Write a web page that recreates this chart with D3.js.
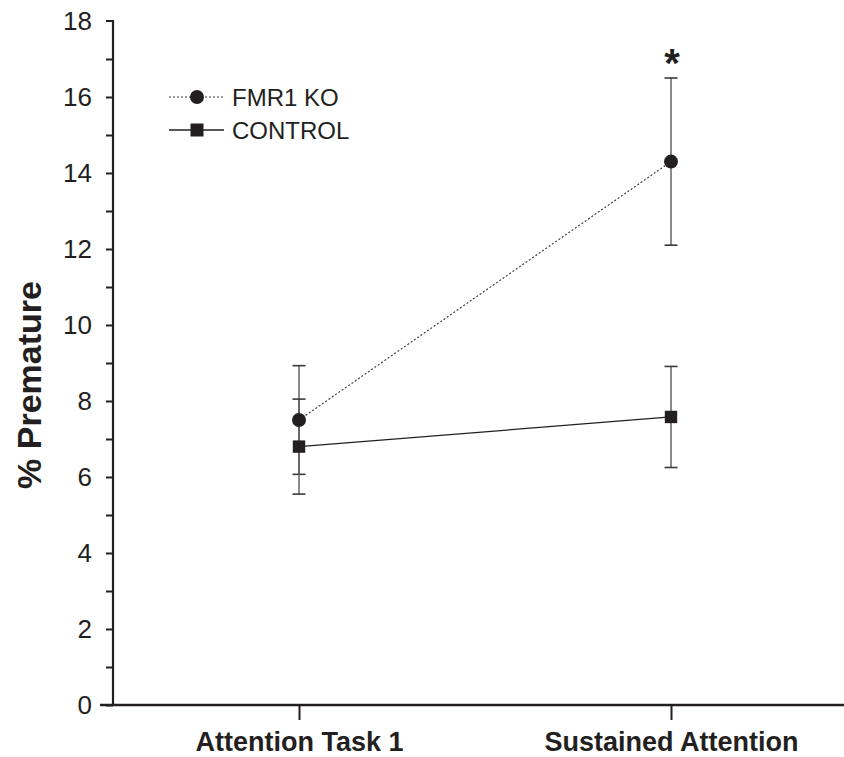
<!DOCTYPE html>
<html>
<head>
<meta charset="utf-8">
<script src="https://cdn.jsdelivr.net/npm/d3@7"></script>
<style>
  html, body { margin: 0; padding: 0; background: #fff; }
  svg { display: block; font-family: "Liberation Sans", Arial, sans-serif; }
</style>
</head>
<body>
<svg id="chart" width="844" height="757"></svg>
<script>
const categories = ["Attention Task 1", "Sustained Attention"];
const seriesNames = ["FMR1 KO", "CONTROL"];
const koMean = [7.5, 14.3];
const koErr = [1.43, 2.2];
const ctrlMean = [6.8, 7.58];
const ctrlErr = [1.25, 1.33];
const yTicks = [0, 2, 4, 6, 8, 10, 12, 14, 16, 18];
const yMinorTicks = [1, 3, 5, 7, 9, 11, 13, 15, 17];
const significance = ["", "*"];

const ink = "#231f20";
const svg = d3.select("#chart");

const x = d3.scalePoint().domain(categories).range([113, 857]).padding(0.5);
const y = d3.scaleLinear().domain([0, 18]).range([705, 21]);

// Y axis
const yAxisG = svg.append("g").attr("transform", "translate(113,0)")
  .call(d3.axisLeft(y).tickValues(yTicks).tickSize(7).tickPadding(14).tickFormat(d3.format("d")));
yAxisG.select(".domain").attr("d", `M-7,${y(18)}H0V${y(0)}`);
yAxisG.selectAll(".tick line").attr("stroke", ink).attr("stroke-width", 2);
yAxisG.selectAll(".tick text").attr("fill", ink).attr("font-size", 26)
  .attr("font-family", "Liberation Sans, Arial, sans-serif");
yAxisG.select(".tick:last-of-type line").remove();
yAxisG.selectAll(".domain").attr("stroke", ink).attr("stroke-width", 2.2);

const yMinor = svg.append("g").attr("transform", "translate(113,0)")
  .call(d3.axisLeft(y).tickValues(yMinorTicks).tickSize(7).tickFormat(""));
yMinor.select(".domain").remove();
yMinor.selectAll(".tick line").attr("stroke", ink).attr("stroke-width", 2);

// X axis
const xAxisG = svg.append("g").attr("transform", `translate(0,${y(0)})`)
  .call(d3.axisBottom(x).tickSize(15).tickPadding(16));
xAxisG.select(".domain").attr("d", "M100,0H844").attr("stroke", ink).attr("stroke-width", 2.4);
xAxisG.selectAll(".tick line").attr("stroke", ink).attr("stroke-width", 2);
xAxisG.selectAll(".tick text").attr("fill", ink).attr("font-size", 27).attr("font-weight", "bold")
  .attr("font-family", "Liberation Sans, Arial, sans-serif")
  .attr("y", 46).attr("dy", 0);

// Y label
svg.append("text")
  .attr("transform", `translate(41,${385}) rotate(-90)`)
  .attr("text-anchor", "middle")
  .attr("font-size", 34).attr("font-weight", "bold").attr("fill", ink)
  .text("% Premature");

// Data
const ko = categories.map((c, i) => ({ c, m: koMean[i], e: koErr[i] }));
const ctrl = categories.map((c, i) => ({ c, m: ctrlMean[i], e: ctrlErr[i] }));

const line = d3.line().x(d => x(d.c)).y(d => y(d.m));

function errorBars(data) {
  const g = svg.append("g");
  data.forEach(d => {
    const cx = x(d.c);
    g.append("line").attr("x1", cx).attr("x2", cx).attr("y1", y(d.m + d.e)).attr("y2", y(d.m - d.e))
      .attr("stroke", "#5a5a5a").attr("stroke-width", 1.4);
    [d.m + d.e, d.m - d.e].forEach(v => {
      g.append("line").attr("x1", cx - 6.5).attr("x2", cx + 6.5).attr("y1", y(v)).attr("y2", y(v))
        .attr("stroke", "#3a3a3a").attr("stroke-width", 1.6);
    });
  });
}
errorBars(ko);
errorBars(ctrl);

svg.append("path").datum(ko).attr("d", line).attr("fill", "none")
  .attr("stroke", "#333").attr("stroke-width", 1.1).attr("stroke-dasharray", "2,2");
svg.append("path").datum(ctrl).attr("d", line).attr("fill", "none")
  .attr("stroke", ink).attr("stroke-width", 1.3);

svg.selectAll(".ko-pt").data(ko).join("circle").attr("class", "ko-pt")
  .attr("cx", d => x(d.c)).attr("cy", d => y(d.m)).attr("r", 7).attr("fill", ink);
svg.selectAll(".ctrl-pt").data(ctrl).join("rect").attr("class", "ctrl-pt")
  .attr("x", d => x(d.c) - 6.2).attr("y", d => y(d.m) - 6.2).attr("width", 12.4).attr("height", 12.4).attr("fill", ink);

// Significance
svg.selectAll(".sig").data(ko).join("text").attr("class", "sig")
  .attr("x", d => x(d.c) + 1).attr("y", d => y(d.m + d.e) - 1)
  .attr("text-anchor", "middle").attr("font-size", 40).attr("font-weight", "bold").attr("fill", ink)
  .text((d, i) => significance[i]);

// Legend
const legend = svg.append("g");
const legendY = [97, 130];
legend.append("line").attr("x1", 169).attr("x2", 224).attr("y1", legendY[0]).attr("y2", legendY[0])
  .attr("stroke", "#333").attr("stroke-width", 1.1).attr("stroke-dasharray", "2,2");
legend.append("circle").attr("cx", 197).attr("cy", legendY[0]).attr("r", 7).attr("fill", ink);
legend.append("line").attr("x1", 169).attr("x2", 224).attr("y1", legendY[1]).attr("y2", legendY[1])
  .attr("stroke", ink).attr("stroke-width", 1.3);
legend.append("rect").attr("x", 197 - 6.5).attr("y", legendY[1] - 6.5).attr("width", 13).attr("height", 13).attr("fill", ink);
legend.selectAll(".lt").data(seriesNames).join("text").attr("class", "lt")
  .attr("x", 232).attr("y", (d, i) => legendY[i]).attr("dy", "0.36em")
  .attr("font-size", 24).attr("fill", ink).text(d => d);
</script>
</body>
</html>
